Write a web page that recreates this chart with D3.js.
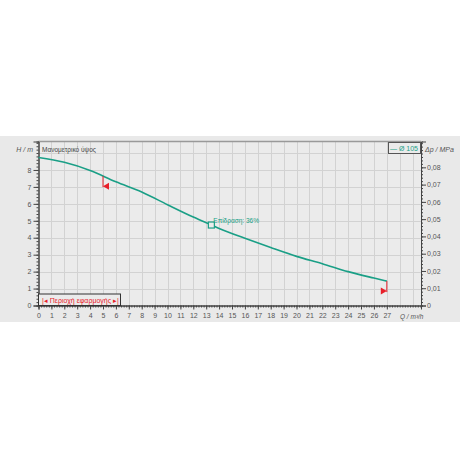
<!DOCTYPE html>
<html><head><meta charset="utf-8">
<script src="https://cdn.jsdelivr.net/npm/d3@7"></script>
<style>
html,body{margin:0;padding:0;background:#fff;}
svg{display:block;font-family:"Liberation Sans",Arial,sans-serif;}
</style></head>
<body>
<svg id="c" width="460" height="460"></svg>
<script>
// Data
const flowQ = [0, 2, 4, 6, 8, 10, 12, 13.4, 14, 16, 18, 20, 22, 24, 26, 27];
const headH = [8.74, 8.45, 7.97, 7.30, 6.70, 5.95, 5.22, 4.75, 4.55, 3.97, 3.42, 2.90, 2.47, 2.00, 1.62, 1.44];
const xTicks = d3.range(0, 28, 1);
const yTicks = [0,1,2,3,4,5,6,7,8];
const pTicks = [0,0.01,0.02,0.03,0.04,0.05,0.06,0.07,0.08];
const opPoint = {q: 13.4, h: 4.75, label: "Επίδραση: 36%"};
const rangeMarks = [{q: 5, dir: "left"}, {q: 27, dir: "right"}];
const seriesName = "— Ø 105";
const rangeLegend = "|◂ Περιοχή εφαρμογής ▸|";
const yTitle = "H / m", y2Title = "Δp / MPa", xTitle = "Q / m³/h", plotTitle = "Μανομετρικό ύψος";

const svg = d3.select("#c");
const L = 38.5, R = 421, T = 141.5, B = 305.5;
const hMax = 9.68;
const x = d3.scaleLinear().domain([0, 29.65]).range([L, R]);
const y = d3.scaleLinear().domain([0, hMax]).range([B, T]);
const y2 = d3.scaleLinear().domain([0, hMax*0.00981]).range([B, T]);

const teal = "#1a9f86", red = "#e8202a", txt = "#555";

// panel
svg.append("rect").attr("x",0).attr("y",136).attr("width",460).attr("height",186).attr("fill","#e9e9e9");
svg.append("rect").attr("x",L).attr("y",T).attr("width",R-L).attr("height",B-T).attr("fill","#ebebeb");

// grid
const g = svg.append("g");
g.selectAll(".vg").data(d3.range(1, 30)).join("line")
  .attr("x1",d=>Math.round(x(d))+0.5).attr("x2",d=>Math.round(x(d))+0.5).attr("y1",T).attr("y2",B)
  .attr("stroke","#d2d2d2").attr("stroke-width",1);
g.selectAll(".hg").data(d3.range(1, 10)).join("line")
  .attr("y1",d=>Math.round(y(d))+0.5).attr("y2",d=>Math.round(y(d))+0.5).attr("x1",L).attr("x2",R)
  .attr("stroke","#d2d2d2").attr("stroke-width",1);

// top border
svg.append("line").attr("x1",L).attr("x2",R).attr("y1",T).attr("y2",T).attr("stroke","#999").attr("stroke-width",1.5);

// axes
const xAx = svg.append("g").attr("transform",`translate(0,${B})`)
  .call(d3.axisBottom(x).tickValues(d3.range(0, 29.61, 0.2)).tickSize(2).tickFormat(""));
const xAxM = svg.append("g").attr("transform",`translate(0,${B})`)
  .call(d3.axisBottom(x).tickValues(xTicks).tickSize(4).tickFormat(d=>d));
const yAx = svg.append("g").attr("transform",`translate(${L},0)`)
  .call(d3.axisLeft(y).tickValues(d3.range(0, 9.61, 0.2)).tickSize(2).tickFormat(""));
const yAxM = svg.append("g").attr("transform",`translate(${L},0)`)
  .call(d3.axisLeft(y).tickValues(yTicks).tickSize(5).tickFormat(d=>d));
const y2Ax = svg.append("g").attr("transform",`translate(${R},0)`)
  .call(d3.axisRight(y2).tickValues(d3.range(0, 0.0941, 0.002)).tickSize(2).tickFormat(""));
const y2AxM = svg.append("g").attr("transform",`translate(${R},0)`)
  .call(d3.axisRight(y2).tickValues(pTicks).tickSize(5).tickFormat(d=>d===0?"0":d3.format(".2f")(d).replace(".",",")));
[xAx,xAxM,yAx,yAxM,y2Ax,y2AxM].forEach(a=>{
  a.select(".domain").attr("stroke","#444").attr("stroke-width",1);
  a.selectAll(".tick line").attr("stroke","#444");
  a.selectAll("text").attr("fill",txt).attr("font-size",7).attr("font-family","Liberation Sans, Arial, sans-serif");
});
xAxM.selectAll("text").attr("dy","0.9em").attr("y",6);
yAxM.selectAll("text").attr("x",-7);
y2AxM.selectAll("text").attr("x",6);

// titles
svg.append("text").attr("x",33).attr("y",151.5).attr("text-anchor","end").attr("font-size",7).attr("font-style","italic").attr("fill",txt).text(yTitle);
svg.append("text").attr("x",425).attr("y",151.5).attr("font-size",7).attr("font-style","italic").attr("fill",txt).text(y2Title);
svg.append("text").attr("x",400).attr("y",318.5).attr("font-size",6.5).attr("font-style","italic").attr("fill",txt).text(xTitle);
svg.append("text").attr("x",42).attr("y",151.5).attr("font-size",6.5).attr("fill","#444").text(plotTitle);

// curve
const line = d3.line().x((d,i)=>x(flowQ[i])).y((d,i)=>y(headH[i])).curve(d3.curveMonotoneX);
svg.append("path").datum(headH).attr("d",line).attr("fill","none").attr("stroke",teal).attr("stroke-width",1.6);

// range markers
const interp = q => { const i = d3.bisectLeft(flowQ, q); if (flowQ[i]===q) return headH[i];
  const t=(q-flowQ[i-1])/(flowQ[i]-flowQ[i-1]); return headH[i-1]+t*(headH[i]-headH[i-1]); };
rangeMarks.forEach(m=>{
  const px = x(m.q), py = y(interp(m.q));
  svg.append("line").attr("x1",px).attr("x2",px).attr("y1",py).attr("y2",py+11).attr("stroke",red).attr("stroke-width",1);
  const ty = py+10, s = m.dir==="left" ? 1 : -1;
  svg.append("path").attr("d",`M${px},${ty} L${px+6*s},${ty-3.5} L${px+6*s},${ty+3.5} Z`).attr("fill",red);
});

// operating point
svg.append("rect").attr("x",x(opPoint.q)-3).attr("y",y(opPoint.h)-3).attr("width",6).attr("height",6)
  .attr("fill","#ebebeb").attr("stroke",teal).attr("stroke-width",1.2);
svg.append("text").attr("x",x(opPoint.q)+2).attr("y",y(opPoint.h)-2.5).attr("font-size",6.5).attr("fill",teal).text(opPoint.label);

// legend top right
svg.append("rect").attr("x",388.5).attr("y",142.5).attr("width",32).attr("height",11).attr("fill","#ebebeb").attr("stroke","#555").attr("stroke-width",1);
svg.append("text").attr("x",418).attr("y",150.6).attr("text-anchor","end").attr("font-size",7).attr("fill",teal).text(seriesName);

// legend bottom left
svg.append("rect").attr("x",L).attr("y",294).attr("width",82).attr("height",11.5).attr("fill","#ebebeb").attr("stroke","#333").attr("stroke-width",1);
svg.append("text").attr("x",42).attr("y",302.5).attr("font-size",7).attr("fill",red).text(rangeLegend);
</script>
</body></html>
